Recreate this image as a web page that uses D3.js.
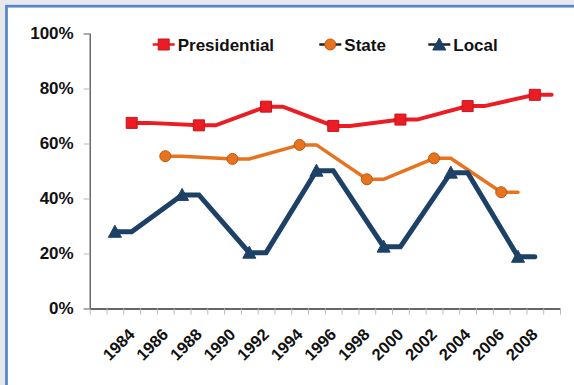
<!DOCTYPE html>
<html>
<head>
<meta charset="utf-8">
<script src="https://cdnjs.cloudflare.com/ajax/libs/d3/7.8.5/d3.min.js"></script>
<style>
  html, body { margin: 0; padding: 0; background: #e6e8eb; }
  svg { display: block; }
  text { font-family: "Liberation Sans", Arial, sans-serif; font-weight: bold; fill: #111; }
</style>
</head>
<body>
<svg id="chart" width="574" height="385"></svg>
<script>
// Year slots on the category axis (one per year), labels on even years
const categories = d3.range(1982, 2010);
const tickLabels = ["1984","1986","1988","1990","1992","1994","1996","1998","2000","2002","2004","2006","2008"];
const yTicks = [0, 20, 40, 60, 80, 100];

// Turnout (%) by election type
const presidentialYears = [1984, 1988, 1992, 1996, 2000, 2004, 2008];
const presidentialValues = [67.5, 66.6, 73.4, 66.4, 68.7, 73.6, 77.7];

const stateYears = [1986, 1990, 1994, 1998, 2002, 2006];
const stateValues = [55.4, 54.4, 59.5, 47.0, 54.6, 42.3];

const localYears = [1983, 1987, 1991, 1995, 1999, 2003, 2007];
const localValues = [27.9, 41.3, 20.3, 50.1, 22.5, 49.4, 18.8];

const series = [
  { name: "Presidential", years: presidentialYears, values: presidentialValues,
    color: "#ec1c24", stroke: "#c2161c", width: 4, marker: "square" },
  { name: "State", years: stateYears, values: stateValues,
    color: "#e8731f", stroke: "#b95a16", width: 3.5, marker: "circle" },
  { name: "Local", years: localYears, values: localValues,
    color: "#1d4166", stroke: "#1d4166", width: 5, marker: "triangle" }
];

const svg = d3.select("#chart");

// Panel with blue border
svg.append("rect")
  .attr("x", 6.5).attr("y", 6.2)
  .attr("width", 620).attr("height", 420)
  .attr("fill", "#ffffff")
  .attr("stroke", "#5585c6")
  .attr("stroke-width", 2.7);

const plot = { left: 89.7, right: 560, top: 33.5, bottom: 308.5 };

const x = d3.scaleLinear()
  .domain([categories[0] - 0.5, categories[categories.length - 1] + 0.5])
  .range([plot.left, plot.right]);
const y = d3.scaleLinear().domain([0, 100]).range([plot.bottom, plot.top]);

// Y axis
const yAxis = svg.append("g")
  .attr("transform", `translate(${plot.left},0)`)
  .call(d3.axisLeft(y).tickValues(yTicks).tickFormat(d => d + "%").tickSize(6).tickPadding(10));
yAxis.select(".domain").attr("stroke", "#444").attr("stroke-width", 1.2);
yAxis.selectAll(".tick line").attr("stroke", "#b8b8b8");
yAxis.selectAll(".tick text")
  .attr("font-size", 17).attr("fill", "#111")
  .style("font-family", "'Liberation Sans', Arial, sans-serif").style("font-weight", "bold");

// X axis: ticks on slot boundaries
const boundaries = d3.range(categories[0] - 0.5, categories[categories.length - 1] + 1, 1);
const xAxis = svg.append("g")
  .attr("transform", `translate(0,${plot.bottom})`)
  .call(d3.axisBottom(x).tickValues(boundaries).tickFormat("").tickSize(6).tickSizeOuter(0));
xAxis.select(".domain").attr("stroke", "#333").attr("stroke-width", 1.6);
xAxis.selectAll(".tick line").attr("stroke", "#b8b8b8");

// Rotated year labels
svg.append("g").selectAll("text")
  .data(tickLabels)
  .join("text")
  .attr("transform", d => `translate(${x(+d) + 4},${plot.bottom + 27}) rotate(-45)`)
  .attr("text-anchor", "end")
  .attr("font-size", 16.5)
  .text(d => d);

// Marker shapes
function markerPath(type) {
  if (type === "square") return "M-5.5,-5.5H5.5V5.5H-5.5Z";
  if (type === "circle") return d3.symbol(d3.symbolCircle, Math.PI * 5.5 * 5.5)();
  return "M0,-6.5L6.5,5.5L-6.5,5.5Z";
}

const line = d3.line().x(d => x(d[0])).y(d => y(d[1]));

series.forEach(s => {
  // Each result is held flat through the following year
  const pts = [];
  s.years.forEach((yr, i) => { pts.push([yr, s.values[i]]); pts.push([yr + 1, s.values[i]]); });

  svg.append("path")
    .datum(pts)
    .attr("fill", "none")
    .attr("stroke", s.color)
    .attr("stroke-width", s.width)
    .attr("stroke-linejoin", "miter")
    .attr("stroke-linecap", "round")
    .attr("d", line);

  svg.append("g").selectAll("path")
    .data(s.years.map((yr, i) => [yr, s.values[i]]))
    .join("path")
    .attr("transform", d => `translate(${x(d[0])},${y(d[1])})`)
    .attr("d", markerPath(s.marker))
    .attr("fill", s.color)
    .attr("stroke", s.stroke)
    .attr("stroke-width", 1);
});

// Legend
const legendItems = [
  { s: series[0], x: 152.7, lineColor: "#ec1c24" },
  { s: series[1], x: 319.3, lineColor: "#222" },
  { s: series[2], x: 428.3, lineColor: "#222" }
];
const ly = 44.5;
legendItems.forEach(it => {
  const g = svg.append("g");
  g.append("line")
    .attr("x1", it.x).attr("x2", it.x + 22)
    .attr("y1", ly).attr("y2", ly)
    .attr("stroke", it.lineColor).attr("stroke-width", 2.5);
  g.append("path")
    .attr("transform", `translate(${it.x + 11},${ly})`)
    .attr("d", markerPath(it.s.marker))
    .attr("fill", it.s.color)
    .attr("stroke", it.s.stroke)
    .attr("stroke-width", 1);
  g.append("text")
    .attr("x", it.x + 25).attr("y", ly + 6.3)
    .attr("font-size", 17)
    .text(it.s.name);
});
</script>
</body>
</html>
